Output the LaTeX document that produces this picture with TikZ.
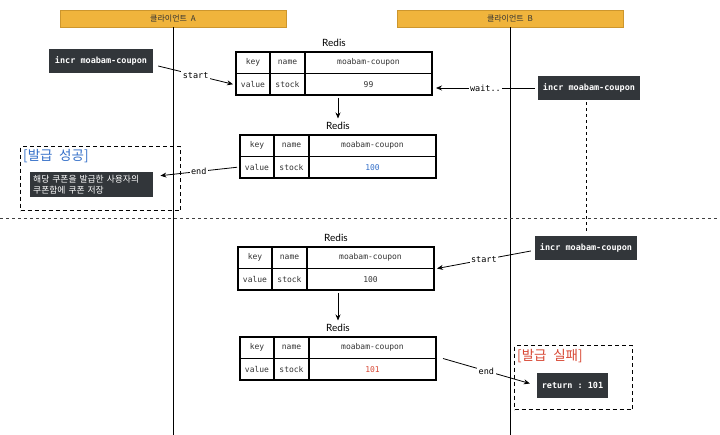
\documentclass[tikz,border=0pt]{standalone}
\usepackage{fontspec}
\setmainfont{Lato}
\setmonofont{DejaVu Sans Mono}
\newfontfamily\krfont[WordSpace=2.2]{Noto Sans CJK KR}
\usetikzlibrary{arrows.meta}
\definecolor{headorange}{RGB}{240,180,60}
\definecolor{headedge}{RGB}{205,150,45}
\definecolor{boxdark}{RGB}{50,54,58}
\definecolor{okblue}{RGB}{50,110,200}
\definecolor{failred}{RGB}{215,70,50}

\tikzset{
  header/.style={fill=headorange, draw=headedge, minimum width=226pt, minimum height=17pt,
    inner sep=0pt, font=\krfont\fontsize{8}{9}\selectfont, text=black!80},
  cmdbox/.style={fill=boxdark, text=white, font=\ttfamily\bfseries\fontsize{8.5}{10}\selectfont,
    minimum height=24pt, inner xsep=4pt},
  cell/.style={draw, line width=1.5pt, outer sep=0pt, inner sep=0pt, minimum height=21.5pt,
    font=\ttfamily\fontsize{8}{9}\selectfont, text=black!80},
  redis/.style={font=\fontsize{10}{12}\selectfont, anchor=south},
  arr/.style={-{Stealth[length=6pt,width=5pt]}, line width=0.8pt},
  lbl/.style={fill=white, inner sep=1.5pt, font=\ttfamily\fontsize{8.5}{9}\selectfont},
  resultbox/.style={draw, line width=1.3pt, dash pattern=on 4pt off 3pt, anchor=north west},
  title/.style={font=\krfont\fontsize{13.5}{15}\selectfont, anchor=west, inner sep=1pt}
}

% one redis table: id, x, y (top left), stock value, value colour
\newcommand{\redistable}[5]{%
  \node[cell, minimum width=34pt, anchor=north west] (#1a) at (#2,#3) {key};
  \node[cell, minimum width=35pt, anchor=north west] (#1b) at (#1a.north east) {name};
  \node[cell, minimum width=127pt, anchor=north west] (#1c) at (#1b.north east) {moabam-coupon};
  \node[cell, minimum width=34pt, anchor=north west] (#1d) at (#1a.south west) {value};
  \node[cell, minimum width=35pt, anchor=north west] (#1e) at (#1d.north east) {stock};
  \node[cell, minimum width=127pt, anchor=north west, text=#5] (#1f) at (#1e.north east) {#4};
  \node[redis] (#1t) at (#2+98,#3-2) {Redis};
}

\begin{document}
\begin{tikzpicture}[x=1pt, y=-1pt]
  \useasboundingbox (0,0) rectangle (720,435);
  \coordinate (bottom) at (0,435);

  % clients and lifelines
  \node[header] (hA) at (173,18.5) {클라이언트 \textit{A}};
  \node[header] (hB) at (510,18.5) {클라이언트 B};
  \draw[line width=0.8pt] (hA.south) -- (hA.south |- bottom);
  \draw[line width=0.8pt] (hB.south) -- (hB.south |- bottom);

  % divider
  \draw[dashed, line width=0.8pt, black!75] (0,218) -- (720,218);

  % redis states
  \redistable{ta}{236}{52}{99}{black!80}
  \redistable{tb}{240}{135}{100}{okblue}
  \redistable{tc}{238}{247}{100}{black!80}
  \redistable{td}{240}{337}{101}{failred}

  % commands
  \node[cmdbox, minimum width=104pt] (inA) at (101,61) {incr moabam-coupon};
  \node[cmdbox, minimum width=102pt] (inB1) at (589,88) {incr moabam-coupon};
  \node[cmdbox, minimum width=102pt] (inB2) at (586,248) {incr moabam-coupon};

  % success
  \node[resultbox, minimum width=160pt, minimum height=64pt] (okbox) at (20,146) {};
  \node[title, text=okblue] (oktitle) at (22,156) {[발급 성공]};
  \node[cmdbox, font=\krfont\fontsize{8.8}{10.5}\selectfont, align=left, anchor=north west,
    text width=117pt, inner xsep=3pt, inner ysep=2pt, minimum height=25pt] (okmsg) at (30,172)
    {해당 쿠폰을 발급한 사용자의\\쿠폰함에 쿠폰 저장};

  % failure
  \node[resultbox, minimum width=118pt, minimum height=64pt] (failbox) at (514,345) {};
  \node[title, text=failred] (failtitle) at (516,356) {[발급 실패]};
  \node[cmdbox, minimum width=71pt, minimum height=25pt] (rmsg) at (572.5,385.5) {return : 101};

  % flow
  \draw[arr] ([shift={(5pt,-5pt)}]inA.east) -- node[lbl]{start} ([xshift=-3pt]tad.west);
  \draw[arr] ([xshift=-3pt]inB1.west) -- node[lbl]{wait..} ([xshift=4pt]inB1.west -| taf.east);
  \draw[arr] ([yshift=-3pt]tbt |- taf.south) -- (tbt.north);
  \draw[arr] ([xshift=-3pt]tbd.west) -- node[lbl]{end} ([shift={(7pt,9pt)}]okmsg.east);
  \draw[dashed, line width=0.9pt, shorten >=2pt, shorten <=2pt] (inB1.south -| inB2.north) -- (inB2.north);
  \draw[arr] ([shift={(-4pt,-3pt)}]inB2.west) -- node[lbl]{start} ([xshift=3pt]tcc.south east);
  \draw[arr] ([yshift=-3pt]tdt |- tcf.south) -- (tdt.north);
  \draw[arr] ([xshift=7pt]tdc.south east) -- node[lbl]{end} ([shift={(-7pt,2pt)}]rmsg.west);
\end{tikzpicture}
\end{document}
